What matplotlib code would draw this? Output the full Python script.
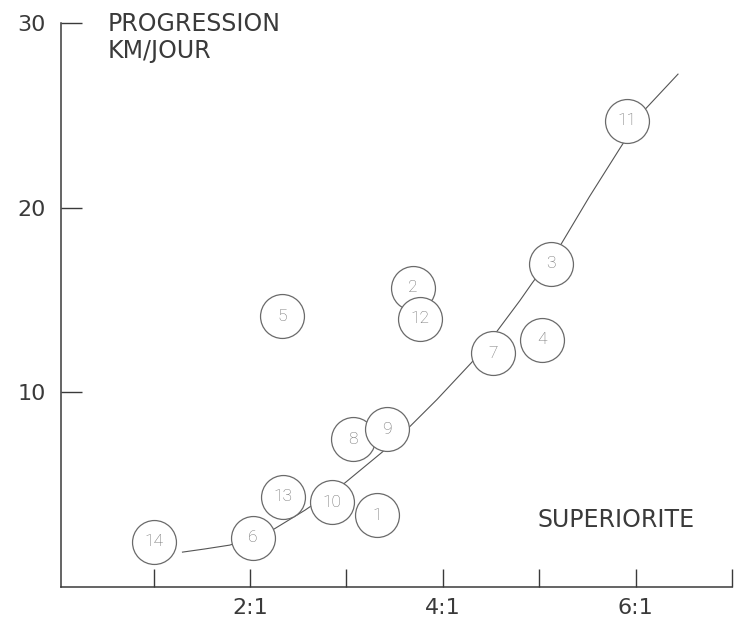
import matplotlib
matplotlib.use('Agg')
import matplotlib.pyplot as plt

# circled observations: label, superiority ratio, progress (km/day)
labels = ['14', '6', '13', '10', '1', '8', '9', '7', '4', '3', '11', '5', '2', '12']
ratio = [1.00, 2.03, 2.34, 2.85, 3.32, 3.07, 3.42, 4.52, 5.03, 5.12, 5.91, 2.33, 3.69, 3.76]
progress = [1.88, 2.10, 4.33, 4.04, 3.33, 7.44, 7.98, 12.1, 12.85, 16.95, 24.7, 14.1, 15.66, 13.98]

# hand drawn trend curve
curve_x = [1.30, 1.53, 1.79, 2.02, 2.25, 2.57, 2.98, 3.37, 3.65, 3.94, 4.30,
           4.56, 4.80, 4.93, 5.23, 5.52, 5.84, 6.10, 6.44]
curve_y = [1.33, 1.50, 1.71, 2.09, 2.58, 3.60, 5.06, 6.74, 8.09, 9.60, 11.61,
           13.28, 14.96, 15.93, 18.04, 20.58, 23.23, 25.33, 27.23]

x_ticks = [1, 2, 3, 4, 5, 6, 7]
x_ticklabels = ['', '2:1', '', '4:1', '', '6:1', '']
y_ticks = [10, 20, 30]
y_ticklabels = ['10', '20', '30']

INK = '#3a3a3a'
W, H = 736, 624

fig = plt.figure(figsize=(W / 100, H / 100), dpi=100)
fig.patch.set_facecolor('white')
ax = fig.add_axes([61 / W, 1 - 587 / H, (732 - 61) / W, (587 - 23) / H])

ax.plot(curve_x, curve_y, color='#555555', linewidth=0.8, zorder=2)
ax.scatter(ratio, progress, s=1000, facecolor='white', edgecolor='#6a6a6a',
           linewidth=0.9, zorder=3, clip_on=False)
for lab, x, y in zip(labels, ratio, progress):
    ax.text(x, y, lab, ha='center', va='center', fontsize=12.5,
            family=['Roboto', 'DejaVu Sans'], fontweight='light',
            color='#707070', zorder=4)

ax.set_xlim(0.04, 7.0)
ax.set_ylim(-0.56, 30)

for side in ['top', 'right']:
    ax.spines[side].set_visible(False)
for side in ['left', 'bottom']:
    ax.spines[side].set_color(INK)
    ax.spines[side].set_linewidth(1.1)

ax.set_xticks(x_ticks)
ax.set_xticklabels(x_ticklabels)
ax.set_yticks(y_ticks)
ax.set_yticklabels(y_ticklabels)
ax.tick_params(axis='x', direction='in', length=13, width=1.0, color=INK,
               pad=8, labelsize=16, labelcolor=INK)
ax.tick_params(axis='y', direction='in', length=15, width=1.0, color=INK,
               pad=11, labelsize=16, labelcolor=INK)

fig.text(108 / W, 1 - 31 / H, 'PROGRESSION', fontsize=17, color=INK,
         ha='left', va='baseline')
fig.text(108 / W, 1 - 58 / H, 'KM/JOUR', fontsize=17, color=INK,
         ha='left', va='baseline')
fig.text(616 / W, 1 - 527 / H, 'SUPERIORITE', fontsize=17, color=INK,
         ha='center', va='baseline')

fig.savefig('out.png', dpi=100, facecolor='white')
